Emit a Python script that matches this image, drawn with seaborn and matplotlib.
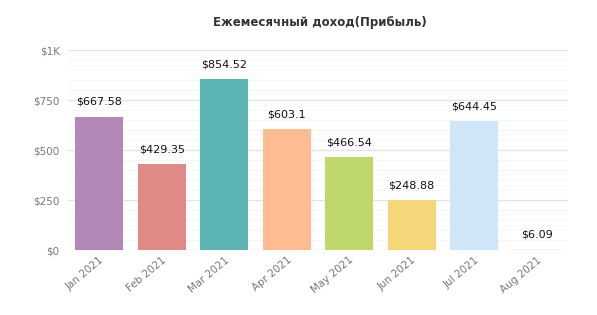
import pandas as pd
import seaborn as sns
import matplotlib.pyplot as plt
import numpy as np

months = ['Jan 2021', 'Feb 2021', 'Mar 2021', 'Apr 2021', 'May 2021', 'Jun 2021', 'Jul 2021', 'Aug 2021']
income = [667.58, 429.35, 854.52, 603.1, 466.54, 248.88, 644.45, 6.09]
bar_colors = ['#B388B6', '#E08A87', '#5AB4B2', '#FFBB91', '#BED86E', '#F5D77A', '#CFE5F8', '#F7EEF3']
y_ticks = [0, 250, 500, 750, 1000]
y_tick_labels = ['$0', '$250', '$500', '$750', '$1K']

df = pd.DataFrame({'month': months, 'income': income})

sns.set_style('white')
plt.rcParams['font.family'] = ['DejaVu Sans']

fig = plt.figure(figsize = (5.97, 3.15), dpi = 100)
ax = fig.add_axes([0.114, 0.206, 0.837, 0.635])

sns.barplot(data = df, x = 'month', y = 'income', hue = 'month', palette = bar_colors,
            legend = False, width = 0.77, saturation = 1, linewidth = 0, ax = ax)

ax.set_ylim(0, 1000)
ax.set_yticks(y_ticks)
ax.set_yticklabels(y_tick_labels)
ax.set_yticks(np.arange(0, 1001, 50), minor = True)
ax.grid(axis = 'y', which = 'major', color = '#e3e3e3', linewidth = 0.9)
ax.grid(axis = 'y', which = 'minor', color = '#f5f5f5', linewidth = 0.7)
ax.set_axisbelow(True)
for s in ax.spines.values():
    s.set_visible(False)
ax.tick_params(axis = 'both', which = 'both', length = 0, colors = '#777777', labelsize = 7.5)
ax.tick_params(axis = 'y', pad = 6)
plt.setp(ax.get_xticklabels(), rotation = 40, ha = 'right', rotation_mode = 'anchor')
ax.set_xlabel('')
ax.set_ylabel('')

for i, v in enumerate(income):
    ax.annotate(f'${v:g}', (i, v), xytext = (0, 7), textcoords = 'offset points',
                ha = 'center', va = 'bottom', fontsize = 8, color = '#111111')

fig.text(0.535, 0.93, 'Ежемесячный доход(Прибыль)', ha = 'center', va = 'center',
         fontsize = 8.5, weight = 'semibold', color = '#333333')

plt.savefig('out.png', dpi = 100)
